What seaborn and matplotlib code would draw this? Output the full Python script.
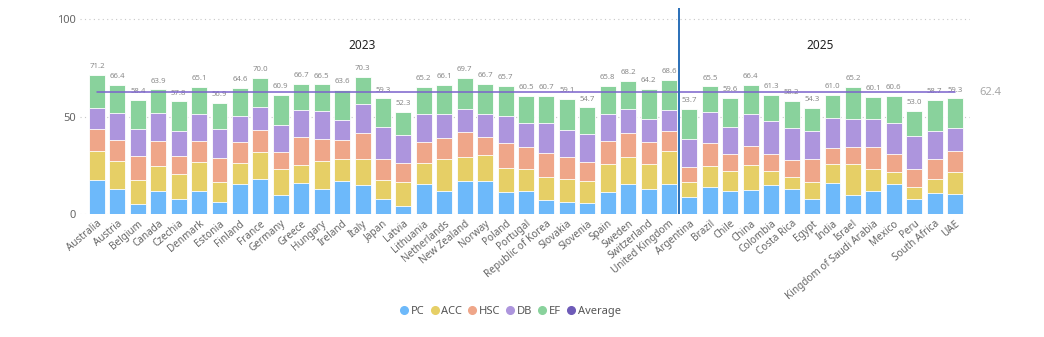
import numpy as np
import pandas as pd
import matplotlib
matplotlib.use("Agg")
import matplotlib.pyplot as plt
import seaborn as sns
from matplotlib.lines import Line2D

countries = ["Australia", "Austria", "Belgium", "Canada", "Czechia", "Denmark", "Estonia",
             "Finland", "France", "Germany", "Greece", "Hungary", "Ireland", "Italy", "Japan",
             "Latvia", "Lithuania", "Netherlands", "New Zealand", "Norway", "Poland", "Portugal",
             "Republic of Korea", "Slovakia", "Slovenia", "Spain", "Sweden", "Switzerland",
             "United Kingdom",
             "Argentina", "Brazil", "Chile", "China", "Colombia", "Costa Rica", "Egypt", "India",
             "Israel", "Kingdom of Saudi Arabia", "Mexico", "Peru", "South Africa", "UAE"]

pc  = [17.4, 12.6, 5.1, 11.6, 7.8, 11.9, 6.1, 15.2, 17.9, 9.9, 15.7, 12.6, 17.1, 14.8, 7.8,
       4.1, 15.4, 11.9, 17.1, 17.1, 11.3, 11.6, 7.2, 6.1, 5.6, 11.4, 15.5, 13.0, 15.4,
       8.7, 14.0, 11.9, 12.3, 14.8, 12.6, 7.5, 15.7, 9.6, 11.8, 15.4, 7.5, 10.8, 10.2]
acc = [15.0, 14.7, 12.5, 12.8, 12.5, 14.9, 10.5, 11.1, 14.0, 13.3, 9.7, 14.7, 11.2, 13.5, 9.4,
       12.5, 10.7, 16.3, 12.4, 13.1, 12.1, 11.4, 11.9, 11.8, 11.1, 14.4, 13.9, 12.6, 17.0,
       7.9, 10.7, 10.1, 13.0, 7.4, 6.5, 9.1, 10.2, 16.3, 11.1, 6.4, 6.5, 7.3, 11.1]
hsc = [11.1, 10.8, 12.4, 13.0, 9.4, 10.6, 12.1, 10.7, 11.3, 8.7, 14.2, 11.3, 9.9, 13.5, 11.1,
       9.5, 10.9, 10.9, 12.7, 9.4, 12.8, 11.5, 12.1, 11.3, 9.8, 11.9, 12.4, 11.1, 10.3,
       7.3, 11.5, 8.9, 9.7, 8.5, 8.5, 11.7, 8.2, 8.7, 11.6, 8.9, 9.0, 10.1, 11.0]
db  = [11.1, 13.6, 13.5, 14.3, 13.1, 14.0, 14.8, 13.3, 11.9, 14.0, 13.6, 14.3, 9.9, 14.9, 16.1,
       14.2, 14.5, 12.4, 11.9, 11.9, 14.3, 12.3, 15.7, 14.1, 14.8, 13.8, 12.3, 12.1, 10.5,
       14.5, 16.4, 13.5, 16.5, 16.9, 16.4, 14.2, 15.0, 14.2, 14.1, 16.1, 16.8, 14.6, 11.7]
totals = [71.2, 66.4, 58.4, 63.9, 57.8, 65.1, 56.9, 64.6, 70.0, 60.9, 66.7, 66.5, 63.6, 70.3, 59.3,
          52.3, 65.2, 66.1, 69.7, 66.7, 65.7, 60.5, 60.7, 59.1, 54.7, 65.8, 68.2, 64.2, 68.6,
          53.7, 65.5, 59.6, 66.4, 61.3, 58.2, 54.3, 61.0, 65.2, 60.1, 60.6, 53.0, 58.7, 59.3]
ef = [round(t - (a + b + c + d), 1) for t, a, b, c, d in zip(totals, pc, acc, hsc, db)]
average = 62.4
groups = ["2023", "2025"]
n_2023 = 29

series = ["PC", "ACC", "HSC", "DB", "EF"]
colors = {"PC": "#6DB9FA", "ACC": "#E6CF66", "HSC": "#EFA689", "DB": "#AD95DD", "EF": "#89D29C"}
avg_color = "#7B62CC"

df = pd.DataFrame({"country": countries, "PC": pc, "ACC": acc, "HSC": hsc, "DB": db, "EF": ef})
cum = df[series].cumsum(axis=1)

sns.set_theme(style="white")
plt.rcParams["font.family"] = ["Noto Sans", "DejaVu Sans"]

fig = plt.figure(figsize=(10.44, 3.37), dpi=100)
ax = fig.add_axes([0.0766, 0.365, 0.8525, 0.61])

# gridlines
for yv in [0, 50, 100]:
    ax.axhline(yv, color="#C8C8C8", lw=0.8, ls=(0, (1, 3)), zorder=0)

# stacked bars drawn as cumulative layers, top layer first
for s in reversed(series):
    sns.barplot(x=df["country"], y=cum[s], color=colors[s], ax=ax, width=0.78,
                edgecolor="white", linewidth=0.6, saturation=1, order=countries, zorder=2)

# total labels
for i, t in enumerate(totals):
    ax.annotate(f"{t:.1f}", (i, t), xytext=(0, 3.5), textcoords="offset points",
                ha="center", va="bottom", fontsize=5.6, color="#8A8A8A")

# average line
ax.plot([0, len(countries) - 1], [average, average], color=avg_color, lw=1.1, zorder=4)
ax.text(len(countries) - 1 + 1.2, average, f"{average}", color="#A8A8A8", fontsize=8,
        va="center", ha="left", clip_on=False)

# group separator
ax.axvline(n_2023 - 0.5, color="#2A6FB8", lw=1.4, zorder=5)

# group titles
ax.text((n_2023 - 1) / 2 - 1, 86.5, groups[0], ha="center", va="center", fontsize=8.5,
        fontweight="bold", color="#222222")
ax.text(n_2023 + (len(countries) - n_2023 - 1) / 2 - 0.1, 86.5, groups[1], ha="center",
        va="center", fontsize=8.5, fontweight="bold", color="#222222")

ax.set_xlim(-0.83, len(countries) - 1 + 0.73)
ax.set_ylim(0, 105.5)
ax.set_yticks([0, 50, 100])
ax.set_yticklabels(["0", "50", "100"], fontsize=8, color="#666666")
ax.set_xlabel("")
ax.set_ylabel("")
ax.set_xticks(range(len(countries)))
ax.set_xticklabels(countries, rotation=40, ha="right", rotation_mode="anchor",
                   fontsize=7.2, color="#666666")
ax.tick_params(axis="both", length=0, pad=3)
for sp in ax.spines.values():
    sp.set_visible(False)

handles = [Line2D([], [], marker="o", ls="", markersize=5.5, color=colors[s]) for s in series]
handles.append(Line2D([], [], marker="o", ls="", markersize=5.5, color="#6E5BB8"))
labels = series + ["Average"]
fig.legend(handles, labels, loc="center", bbox_to_anchor=(0.489, 0.077), ncol=6,
           frameon=False, fontsize=8, handlelength=0.7, handletextpad=0.25,
           columnspacing=0.55, labelcolor="#555555")

fig.savefig("out.png", dpi=100)
